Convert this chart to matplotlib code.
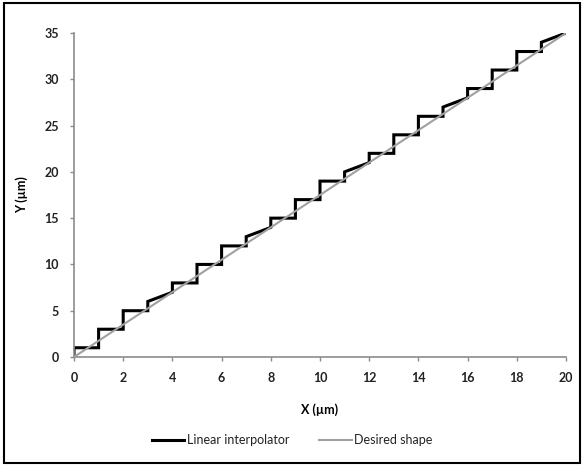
import matplotlib
matplotlib.use("Agg")
import matplotlib.pyplot as plt
from matplotlib.patches import Rectangle

# Vertices of the interpolator path (X, Y in µm)
interp_x = [0, 0, 1, 1, 2, 2, 3, 3, 4, 4, 5, 5, 6, 6, 7, 7, 8, 8, 9, 9, 10,
            10, 11, 11, 12, 12, 13, 13, 14, 14, 15, 15, 16, 16, 17, 17, 18, 18,
            19, 19, 20]
interp_y = [0, 1, 1, 3, 3, 5, 5, 6, 7, 8, 8, 10, 10, 12, 12, 13, 14, 15, 15, 17, 17,
            19, 19, 20, 21, 22, 22, 24, 24, 26, 26, 27, 28, 29, 29, 31, 31, 33,
            33, 34, 35]

# Desired straight shape
desired_x = [0, 20]
desired_y = [0, 35]

x_ticks = [0, 2, 4, 6, 8, 10, 12, 14, 16, 18, 20]
y_ticks = [0, 5, 10, 15, 20, 25, 30, 35]

plt.rcParams['font.family'] = ['Lato', 'DejaVu Sans']

fig = plt.figure(figsize=(5.84, 4.69), dpi=100)
ax = fig.add_axes([74 / 584, 1 - 357 / 469, 492 / 584, 324 / 469])

ax.plot(interp_x, interp_y, color='black', lw=2.2, solid_joinstyle='miter',
        label='Linear interpolator', zorder=2)
ax.plot(desired_x, desired_y, color='#a0a0a0', lw=1.5,
        label='Desired shape', zorder=3)

ax.set_xlim(0, 20)
ax.set_ylim(0, 35)
ax.set_xticks(x_ticks)
ax.set_yticks(y_ticks)

for side in ['top', 'right']:
    ax.spines[side].set_visible(False)
for side in ['left', 'bottom']:
    ax.spines[side].set_color('#8c8c8c')
    ax.spines[side].set_linewidth(1.2)

ax.tick_params(axis='both', direction='out', length=3, width=1, color='#8c8c8c',
               labelsize=9, labelcolor='#222222', pad=8)
for lbl in ax.get_xticklabels() + ax.get_yticklabels():
    lbl.set_fontweight('bold')

ax.set_xlabel('X (µm)', fontweight='bold', fontsize=9, labelpad=14)
ax.set_ylabel('Y (µm)', fontweight='bold', fontsize=9, labelpad=12)

leg = fig.legend(loc='center', bbox_to_anchor=(0.5, 1 - 440 / 469), ncol=2,
                 frameon=False, fontsize=9, handlelength=2.6, handletextpad=0.2,
                 columnspacing=2.4)
for txt in leg.get_texts():
    txt.set_color('#222222')

# Outer chart frame
fig.patches.append(Rectangle((4 / 584, 6 / 469), 576 / 584, 460 / 469,
                             transform=fig.transFigure, fill=False,
                             edgecolor='black', lw=1.5))

fig.savefig('out.png', dpi=100)
